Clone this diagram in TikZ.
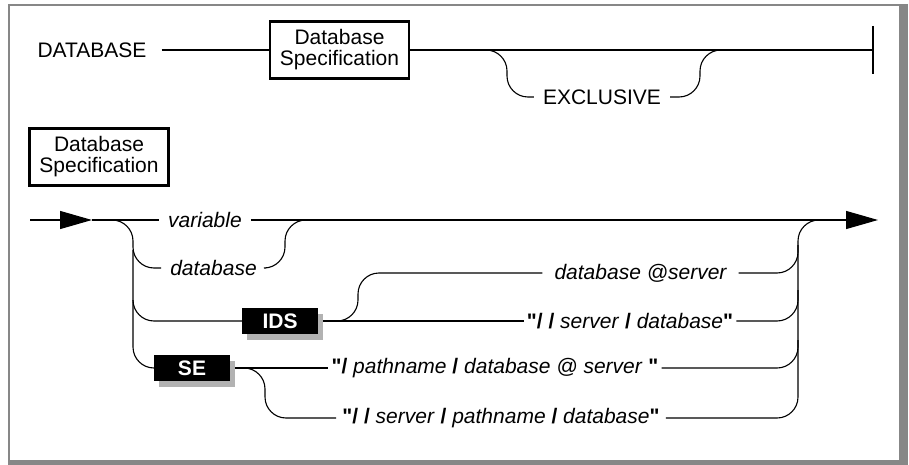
\documentclass[tikz,border=0pt]{standalone}
\usepackage{fontspec}
\setmainfont{Liberation Sans}
\usetikzlibrary{arrows.meta,shadows}

\tikzset{
  rail/.style={line width=1.1pt, rounded corners=21pt},
  railarrow/.style={-{Triangle[length=32pt,width=18pt]}},
  lbl/.style={font=\fontsize{21}{21}\selectfont, inner sep=0pt, inner xsep=9pt, minimum height=21pt},
  specbox/.style={draw, line width=2.6pt, align=center, minimum width=139pt, minimum height=57pt,
    inner sep=2pt, font=\fontsize{21}{21}\selectfont},
  kwbox/.style={fill=black, text=white, font=\fontsize{21}{21}\selectfont\bfseries,
    minimum width=76pt, minimum height=26pt, inner sep=0pt,
    drop shadow={shadow xshift=5pt, shadow yshift=-6pt, fill=black!30, opacity=1}},
}
\newcommand{\pathsym}[1]{\textbf{#1}}
\newcommand{\dq}{\textbf{\textquotedbl}}

\begin{document}
\begin{tikzpicture}[x=1pt,y=-1pt]

  % Frame
  \fill[black!47] (7.5,4) rectangle (908,465);
  \fill[white] (10,6.5) rectangle (899,460);
  \useasboundingbox (0,0) rectangle (909,465);

  % DATABASE statement
  \node[lbl, inner xsep=15pt] (kw) at (92,50) {DATABASE};
  \node[specbox] (spec1) at (339.5,50) {Database\\Specification};
  \node[lbl] (excl) at (602,97) {EXCLUSIVE};
  \coordinate (stop) at (873,50);

  \draw[rail] (kw.east) -- (spec1.west);
  \draw[rail] (spec1.east) -- (stop);
  \draw[line width=1.1pt] ([yshift=24pt]stop) -- ([yshift=-24pt]stop);
  \draw[rail] (483,50) -- (507,50) -- (507,97) -- (excl.west);
  \draw[rail] (excl.east) -- (700,97) -- (700,50) -- (723,50);

  % Database Specification
  \node[specbox] (spec2) at (99,157) {Database\\Specification};
  \coordinate (in) at (30,220);
  \coordinate (out) at (878,220);

  \node[lbl] (var) at (205,220) {\itshape variable};
  \node[lbl] (db) at (213.5,268) {\itshape database};
  \node[kwbox] (ids) at (280,321) {IDS};
  \node[kwbox] (se) at (192,368) {SE};
  \node[lbl, inner xsep=12pt] (dbsrv) at (640.5,273) {\itshape database @server};
  \node[lbl, inner xsep=3pt] (idsq) at (630,321)
    {\dq\pathsym{/ /} \textit{server} \pathsym{/} \textit{database}\dq};
  \node[lbl, inner xsep=3pt] (seq1) at (495,368)
    {\dq\pathsym{/} \textit{pathname} \pathsym{/} \textit{database @ server} \dq};
  \node[lbl, inner xsep=6pt] (seq2) at (501,418)
    {\dq\pathsym{/ /} \textit{server} \pathsym{/} \textit{pathname} \pathsym{/} \textit{database}\dq};

  % main line
  \draw[rail, railarrow] (in) -- (92,220);
  \draw[rail] (92,220) -- (var.west);
  \draw[rail, railarrow] (var.east) -- (out);

  % left rail
  \draw[rail] (110,220) -- (133,220) -- (133,268) -- (db.west);
  \draw[rail] (133,250) -- (133,321) -- (ids.west);
  \draw[rail] (133,300) -- (133,368) -- (se.west);
  \draw[rail] (db.east) -- (285,268) -- (285,220) -- (308,220);

  % IDS and SE branches
  \draw[rail] ([xshift=5pt]ids.east) -- (idsq.west);
  \draw[rail] (336,321) -- (358,321) -- (358,273) -- (dbsrv.west);
  \draw[rail] ([xshift=5pt]se.east) -- (seq1.west);
  \draw[rail] (242,368) -- (265,368) -- (265,418) -- (seq2.west);

  % right rail
  \draw[rail] (dbsrv.east) -- (798,273) -- (798,245);
  \draw[rail] (idsq.east) -- (798,321) -- (798,290);
  \draw[rail] (seq1.east) -- (798,368) -- (798,340);
  \draw[rail] (seq2.east) -- (798,418) -- (798,220) -- (822,220);

\end{tikzpicture}
\end{document}
